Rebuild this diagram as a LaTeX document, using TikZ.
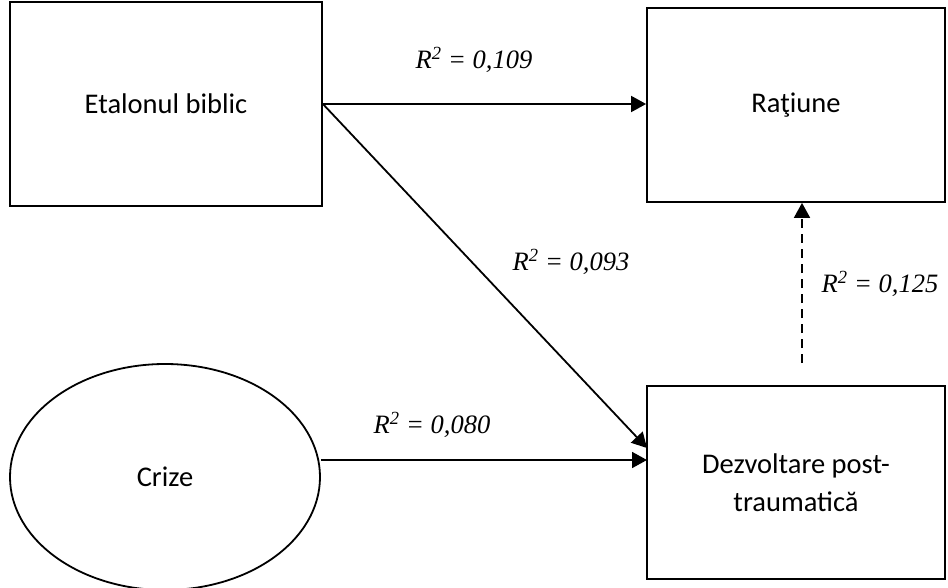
\documentclass[tikz,border=0pt]{standalone}
\usepackage{fontspec}
\setmainfont{Carlito}
\newfontfamily\tnr{Liberation Serif}
\usetikzlibrary{shapes.geometric,arrows.meta}
\begin{document}
\begin{tikzpicture}[x=1pt,y=-1pt,
  box/.style={draw,line width=1.8pt,rectangle,inner sep=0pt,align=center,font=\fontsize{28.5}{38}\selectfont},
  oval/.style={draw,line width=1.8pt,ellipse,inner sep=0pt,font=\fontsize{28.5}{34}\selectfont},
  lab/.style={font=\tnr\itshape\fontsize{26.5}{32}\selectfont,inner sep=0pt},
  arr/.style={line width=1.8pt,-{Triangle[length=15pt,width=16pt]}}]
\useasboundingbox (0,0) rectangle (948,588);
\node[box,minimum width=312pt,minimum height=204pt] (etal) at (166,104) {Etalonul biblic};
\node[box,minimum width=298pt,minimum height=194pt] (rat) at (796,105) {Raţiune};
\node[box,minimum width=298pt,minimum height=193pt] (dez) at (796,482.5) {Dezvoltare post-\\traumatică};
\node[oval,minimum width=310pt,minimum height=226pt] (cr) at (165,477) {Crize};
\coordinate (d1) at (647,448);
\coordinate (d2) at (647,460);
\coordinate (ds) at (802,363);
\draw[arr] (etal.east) -- (etal.east -| rat.west);
\draw[arr] (etal.east) -- (d1);
\draw[arr] (cr.east |- d2) -- (d2);
\draw[arr,dash pattern=on 9pt off 6pt] (ds) -- (ds |- rat.south);
\node[lab] (l1) at (474,60) {R\textsuperscript{2} = 0,109};
\node[lab] (l2) at (571,262) {R\textsuperscript{2} = 0,093};
\node[lab] (l3) at (432,425) {R\textsuperscript{2} = 0,080};
\node[lab] (l4) at (880,284) {R\textsuperscript{2} = 0,125};
\end{tikzpicture}
\end{document}
